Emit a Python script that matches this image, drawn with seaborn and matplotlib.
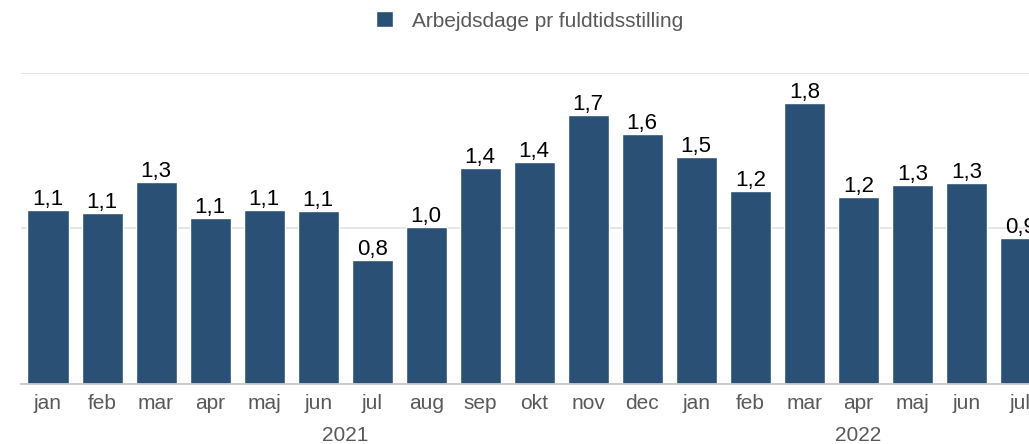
import pandas as pd
import matplotlib.pyplot as plt
import matplotlib.transforms as mtransforms
from matplotlib.patches import Patch
import seaborn as sns


# data
months = ["jan", "feb", "mar", "apr", "maj", "jun", "jul", "aug", "sep", "okt", "nov", "dec",
          "jan", "feb", "mar", "apr", "maj", "jun", "jul"]
years = [2021] * 12 + [2022] * 7
values = [1.12, 1.10, 1.30, 1.07, 1.12, 1.11, 0.80, 1.01, 1.39, 1.43, 1.73, 1.61,
          1.46, 1.24, 1.81, 1.20, 1.28, 1.29, 0.94]
series_name = "Arbejdsdage pr fuldtidsstilling"

df = pd.DataFrame({"month": months, "year": years, "value": values})
df["period"] = df["month"] + " " + df["year"].astype(str)

bar_color = "#2a5075"
text_grey = "#595959"

sns.set_style("white")
plt.rcParams["font.family"] = ["Liberation Sans", "DejaVu Sans"]

fig = plt.figure(figsize=(10.29, 4.44), dpi=100)
ax = fig.add_axes([21 / 1029, 60 / 444, 1 - 21 / 1029, (384 - 73) / 444])

sns.barplot(data=df, x="period", y="value", order=list(df["period"]),
            color=bar_color, saturation=1, width=0.76, ax=ax, zorder=3)

ax.set_xlim(-0.5, 18.16)
ax.set_ylim(0, 2)
ax.set_yticks([0, 1, 2])
ax.set_yticklabels([])
ax.tick_params(axis="y", length=0)
ax.yaxis.grid(True, color="#e3e3e3", linewidth=1.3, zorder=0)
ax.set_axisbelow(True)

for s in ["top", "right", "left"]:
    ax.spines[s].set_visible(False)
ax.spines["bottom"].set_color("#c8c8c8")
ax.spines["bottom"].set_linewidth(1.3)
ax.spines["bottom"].set_zorder(4)

ax.set_xticks(range(len(months)))
ax.set_xticklabels(months, fontsize=15, color=text_grey)
ax.tick_params(axis="x", length=0, pad=7)
ax.set_xlabel("")
ax.set_ylabel("")

# value labels, comma decimals; the last one runs off the right edge as in the original
labels = [f"{v:.1f}".replace(".", ",") for v in values]
ax.bar_label(ax.containers[0], labels=labels, padding=0, fontsize=16, color="black", clip_on=False)

# year labels under the month labels
trans = mtransforms.blended_transform_factory(ax.transData, ax.transAxes)
for yr in sorted(set(years)):
    idx = df.index[df["year"] == yr]
    lo, hi = idx.min(), min(idx.max(), 18)
    ax.text((lo + hi) / 2, -0.165, str(yr), transform=trans, ha="center", va="center",
            fontsize=15, color=text_grey)

handles = [Patch(facecolor=bar_color, label=series_name)]
fig.legend(handles=handles, loc="center", bbox_to_anchor=(529.5 / 1029, 1 - 21 / 444), frameon=False,
           fontsize=15, labelcolor=text_grey, handlelength=0.8, handleheight=0.8,
           handletextpad=0.9)

fig.savefig("out.png", dpi=100)
